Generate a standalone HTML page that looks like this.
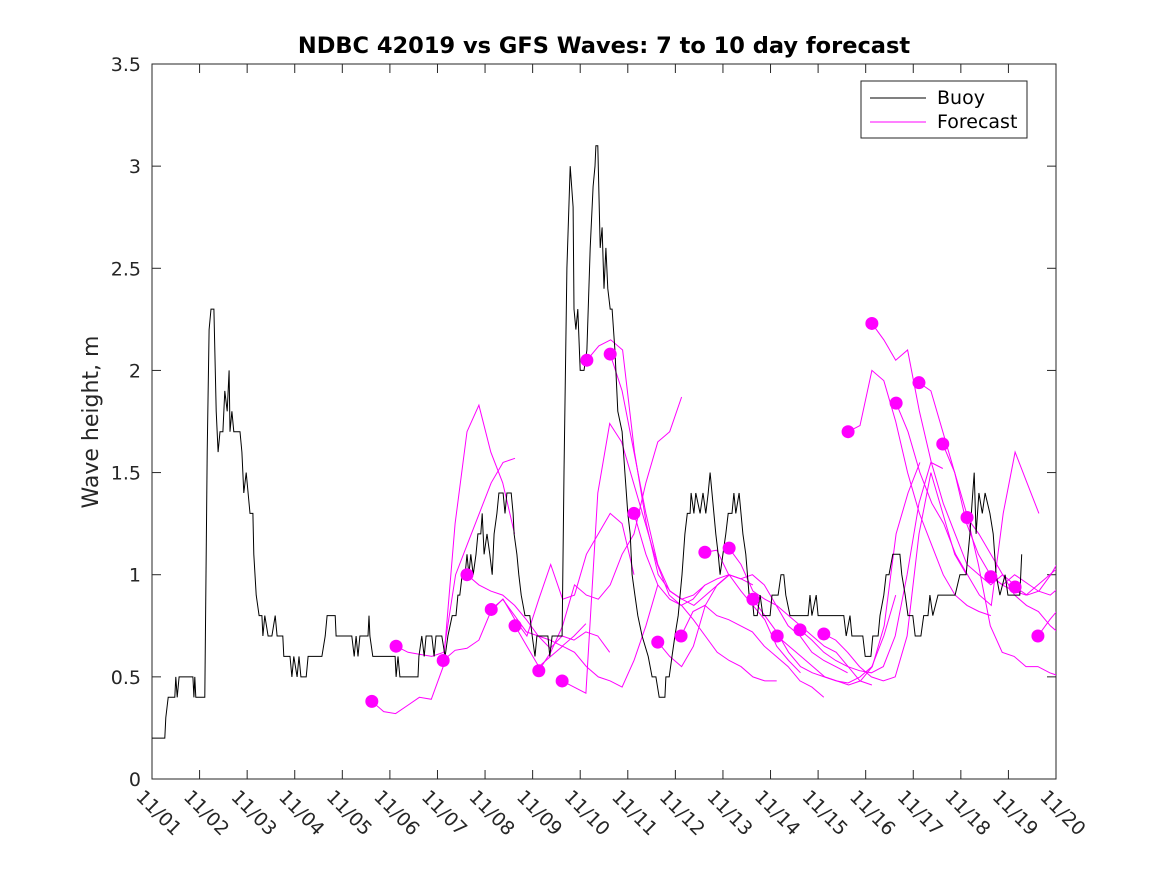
<!DOCTYPE html>
<html><head><meta charset="utf-8"><style>
html,body{margin:0;padding:0;background:#fff;}
svg{display:block;font-family:"DejaVu Sans","Liberation Sans",sans-serif;}
</style></head><body>
<svg id="chart" width="1167" height="875" viewBox="0 0 1167 875" xmlns="http://www.w3.org/2000/svg">
<defs><clipPath id="plotclip"><rect x="152" y="64" width="904" height="715"/></clipPath></defs>
<rect width="1167" height="875" fill="#fff"/>
<text x="604" y="53" text-anchor="middle" font-size="22.5" font-weight="bold" fill="#000">NDBC 42019 vs GFS Waves: 7 to 10 day forecast</text>
<text transform="translate(98,422) rotate(-90)" text-anchor="middle" font-size="22" fill="#262626">Wave height, m</text>
<g id="grid"></g>
<g id="series" clip-path="url(#plotclip)"></g>
<g id="legend">
<rect x="861" y="81" width="166" height="57" fill="#fff" stroke="#262626" stroke-width="1"/>
<line x1="870" y1="98" x2="926" y2="98" stroke="#000" stroke-width="1"/>
<text x="937" y="104" font-size="19" fill="#000">Buoy</text>
<line x1="870" y1="122" x2="926" y2="122" stroke="#ff00ff" stroke-width="1"/>
<text x="937" y="128" font-size="19" fill="#000">Forecast</text>
</g>
</svg>
<script>
const xTickLabels = ["11/01","11/02","11/03","11/04","11/05","11/06","11/07","11/08","11/09","11/10","11/11","11/12","11/13","11/14","11/15","11/16","11/17","11/18","11/19","11/20"];
const yTicks = [0,0.5,1,1.5,2,2.5,3,3.5];
const yTickLabels = ["0","0.5","1","1.5","2","2.5","3","3.5"];
const buoyDays = [0,.27,.29,.34,.48,.50,.53,.57,.86,.88,.90,.92,1.11,1.16,1.20,1.24,1.30,1.35,1.39,1.43,1.49,1.53,1.58,1.62,1.64,1.68,1.72,1.85,1.89,1.93,1.98,2.02,2.06,2.12,2.14,2.19,2.25,2.31,2.33,2.37,2.44,2.52,2.59,2.63,2.75,2.77,2.90,2.94,2.98,3.05,3.09,3.13,3.24,3.28,3.57,3.64,3.68,3.85,3.87,4.20,4.25,4.29,4.33,4.37,4.54,4.56,4.58,4.64,5.11,5.13,5.17,5.21,5.59,5.61,5.67,5.72,5.76,5.88,5.93,5.97,6.09,6.16,6.22,6.31,6.39,6.43,6.47,6.52,6.58,6.62,6.66,6.70,6.75,6.81,6.85,6.91,6.94,6.98,7.04,7.10,7.15,7.19,7.25,7.29,7.38,7.42,7.46,7.55,7.59,7.61,7.67,7.71,7.76,7.84,7.94,7.99,8.05,8.09,8.32,8.36,8.41,8.53,8.62,8.66,8.72,8.79,8.85,8.87,8.91,8.95,9.00,9.08,9.14,9.21,9.27,9.31,9.33,9.37,9.42,9.46,9.50,9.54,9.58,9.63,9.67,9.73,9.79,9.88,9.94,10.00,10.05,10.09,10.15,10.21,10.30,10.43,10.51,10.59,10.66,10.78,10.80,10.87,10.93,10.99,11.06,11.10,11.14,11.20,11.25,11.31,11.33,11.39,11.43,11.52,11.58,11.64,11.69,11.73,11.77,11.81,11.85,11.90,11.94,12.00,12.06,12.11,12.19,12.23,12.27,12.34,12.38,12.42,12.48,12.55,12.61,12.65,12.72,12.78,12.84,12.99,13.03,13.16,13.22,13.28,13.32,13.41,13.79,13.83,13.87,13.96,14.00,14.54,14.59,14.67,14.71,14.80,14.94,14.99,15.11,15.15,15.26,15.30,15.38,15.43,15.49,15.57,15.72,15.76,15.83,15.89,15.99,16.04,16.16,16.22,16.31,16.35,16.41,16.52,16.88,16.98,17.11,17.19,17.28,17.32,17.38,17.45,17.51,17.61,17.68,17.74,17.82,17.93,17.99,18.24,18.28];
const buoyHeights = [.2,.2,.3,.4,.4,.5,.4,.5,.5,.4,.5,.4,.4,1.6,2.2,2.3,2.3,1.8,1.6,1.7,1.7,1.9,1.8,2.0,1.7,1.8,1.7,1.7,1.6,1.4,1.5,1.4,1.3,1.3,1.1,.9,.8,.8,.7,.8,.7,.7,.8,.7,.7,.6,.6,.5,.6,.5,.6,.5,.5,.6,.6,.7,.8,.8,.7,.7,.6,.7,.6,.7,.7,.8,.7,.6,.6,.5,.6,.5,.5,.6,.7,.6,.7,.7,.6,.7,.7,.6,.7,.8,.8,.9,.9,1.0,1.0,1.1,1.0,1.1,1.0,1.1,1.2,1.2,1.3,1.1,1.2,1.1,1.0,1.2,1.3,1.4,1.4,1.3,1.4,1.4,1.3,1.2,1.1,1.0,.9,.8,.8,.7,.6,.7,.7,.6,.7,.7,.7,1.5,2.5,3.0,2.8,2.3,2.2,2.3,2.0,2.0,2.1,2.6,2.9,3.0,3.1,3.1,2.6,2.7,2.4,2.6,2.4,2.3,2.3,2.1,1.8,1.7,1.5,1.3,1.2,1.0,.9,.8,.7,.6,.5,.5,.4,.4,.5,.5,.6,.7,.8,.9,1.0,1.2,1.3,1.3,1.4,1.3,1.4,1.3,1.4,1.3,1.4,1.5,1.4,1.3,1.2,1.1,1.0,1.1,1.2,1.3,1.3,1.4,1.3,1.4,1.3,1.2,1.1,.9,.9,.8,.8,.9,.8,.8,.9,.9,1.0,1.0,.9,.8,.8,.9,.8,.9,.8,.8,.7,.8,.7,.7,.7,.6,.6,.7,.7,.8,.9,1.0,1.0,1.1,1.1,1.0,.9,.8,.8,.7,.7,.8,.8,.9,.8,.9,.9,1.0,1.0,1.2,1.5,1.2,1.4,1.3,1.4,1.3,1.2,1.0,.9,1.0,.9,.9,1.1];
const forecastStarts = [4.62,5.13,6.12,6.62,7.13,7.63,8.13,8.62,9.14,9.63,10.13,10.63,11.12,11.62,12.13,12.63,13.14,13.62,14.12,14.63,15.13,15.64,16.12,16.62,17.13,17.63,18.14,18.62];
const f00=[.38,.33,.32,.36,.40,.39,.55,1.25,1.7,1.83,1.6,1.45,1.2];
const f01=[.65,.62,.61,.60,.62,1.0,1.15,1.3,1.45,1.55,1.57];
const f02=[.58,.63,.64,.68,.82,.88,.80,.72,.70,.68,.65,.70,.76];
const f03=[1.0,.95,.92,.90,.85,.78,.70,.64,.70,.68,.72,.70,.62];
const f04=[.83,.88,.78,.70,.88,1.05,.88,.90,1.1,1.2,1.3,1.25,1.0];
const f05=[.75,.65,.55,.60,.65,.62,.55,.50,.48,.45,.58,.75,.95];
const f06=[.53,.62,.75,.95,.90,.88,.95,1.1,1.2,1.45,1.65,1.7,1.87];
const f07=[.48,.45,.42,1.4,1.74,1.65,1.45,1.25,1.05,.90,.85,.88,.95];
const f08=[2.05,2.12,2.15,2.1,1.6,1.25,1.0,.92,.88,.85,.90,.95,1.0];
const f09=[2.08,1.9,1.6,1.3,1.05,.92,.88,.90,.95,.98,1.0,.98,.95];
const f10=[1.3,1.1,.95,.88,.85,.78,.70,.62,.58,.55,.50,.48,.48];
const f11=[.67,.60,.55,.65,.85,.95,1.0,.92,.85,.78,.65,.58,.52];
const f12=[.70,.82,.85,.80,.78,.75,.72,.65,.60,.55,.48,.45,.40];
const f13=[1.11,1.12,1.0,.98,1.0,.95,.85,.75,.70,.62,.58,.55,.52];
const f14=[1.13,1.05,.92,.88,.85,.80,.75,.70,.65,.62,.55,.48,.46];
const f15=[.88,.80,.72,.62,.55,.52,.50,.48,.47,.50,.55,.70,.90];
const f16=[.70,.65,.60,.55,.50,.48,.46,.48,.55,.75,1.2,1.4,1.55];
const f17=[.73,.68,.62,.58,.55,.53,.52,.55,.70,1.0,1.35,1.55,1.52];
const f18=[.71,.68,.62,.55,.50,.48,.50,.70,1.2,1.5,1.3,1.1,1.0];
const f19=[1.70,1.73,2.0,1.95,1.75,1.5,1.3,1.15,1.0,.90,.85,.82,.80];
const f20=[2.23,2.15,2.05,2.1,1.8,1.55,1.35,1.2,1.05,1.0,.95,1.0,.95];
const f21=[1.84,1.7,1.5,1.35,1.25,1.1,1.0,.90,.85,1.3,1.6,1.45,1.3];
const f22=[1.94,1.9,1.7,1.5,1.25,1.1,1.0,.95,.92,.90,.95,1.0,1.05];
const f23=[1.64,1.5,1.3,1.05,.75,.62,.60,.55,.55,.52,.50,.45,.43];
const f24=[1.28,1.2,1.1,1.0,.90,.85,.82,.75,.70,.66,.65,.60];
const f25=[.99,.95,1.0,.96,.92,.90,.95,1.05,1.2,1.35,1.55];
const f26=[.94,.90,.92,1.0,1.1,1.17,1.2];
const f27=[.70,.78,.85];
const forecastValues=[f00,f01,f02,f03,f04,f05,f06,f07,f08,f09,f10,f11,f12,f13,f14,f15,f16,f17,f18,f19,f20,f21,f22,f23,f24,f25,f26,f27];
const forecastStep = 0.25;

const L=152,R=1056,T=64,B=779;
const xScale=d=>L+(R-L)*d/19;
const yScale=v=>B-(B-T)*v/3.5;
const NS="http://www.w3.org/2000/svg";
function mk(tag,attrs,parent){const e=document.createElementNS(NS,tag);for(const k in attrs)e.setAttribute(k,attrs[k]);parent.appendChild(e);return e;}
const grid=document.getElementById('grid');
const ser=document.getElementById('series');
const frame=mk('rect',{x:L,y:T,width:R-L,height:B-T,fill:'none',stroke:'#262626','stroke-width':1},grid);


xTickLabels.forEach((lab,i)=>{
  const x=xScale(i);
  const t1=mk('line',{x1:x,y1:B,x2:x,y2:B-9,stroke:'#262626'},grid);
  
  
  const t2=mk('line',{x1:x,y1:T,x2:x,y2:T+9,stroke:'#262626'},grid);
  
  
  const tx=mk('text',{x:0,y:0,'font-size':19,fill:'#262626',transform:`translate(${x-17},${B+19}) rotate(45)`},grid);
  tx.textContent=lab;
  
  
});
yTicks.forEach((v,i)=>{
  const y=yScale(v);
  const t1=mk('line',{x1:L,y1:y,x2:L+9,y2:y,stroke:'#262626'},grid);
  
  
  const t2=mk('line',{x1:R,y1:y,x2:R-9,y2:y,stroke:'#262626'},grid);
  
  
  const tx=mk('text',{x:L-11,y:y+7,'font-size':19,fill:'#262626','text-anchor':'end'},grid);
  tx.textContent=yTickLabels[i];
  
  
});
forecastValues.forEach((vals,i)=>{
  const s=forecastStarts[i];
  const pts=vals.map((v,j)=>xScale(s+j*forecastStep).toFixed(1)+','+yScale(v).toFixed(1)).join(' ');
  const pl=mk('polyline',{points:pts,fill:'none',stroke:'#ff00ff','stroke-width':1},ser);
  
  
});
const bp=buoyDays.map((d,i)=>xScale(d).toFixed(1)+','+yScale(buoyHeights[i]).toFixed(1)).join(' ');
const bl=mk('polyline',{points:bp,fill:'none',stroke:'#000','stroke-width':1},ser);


forecastValues.forEach((vals,i)=>{
  const c=mk('circle',{cx:xScale(forecastStarts[i]),cy:yScale(vals[0]),r:6.5,fill:'#ff00ff'},ser);
  
  
});
ser.parentNode.appendChild(document.getElementById('legend'));
</script>
</body></html>
